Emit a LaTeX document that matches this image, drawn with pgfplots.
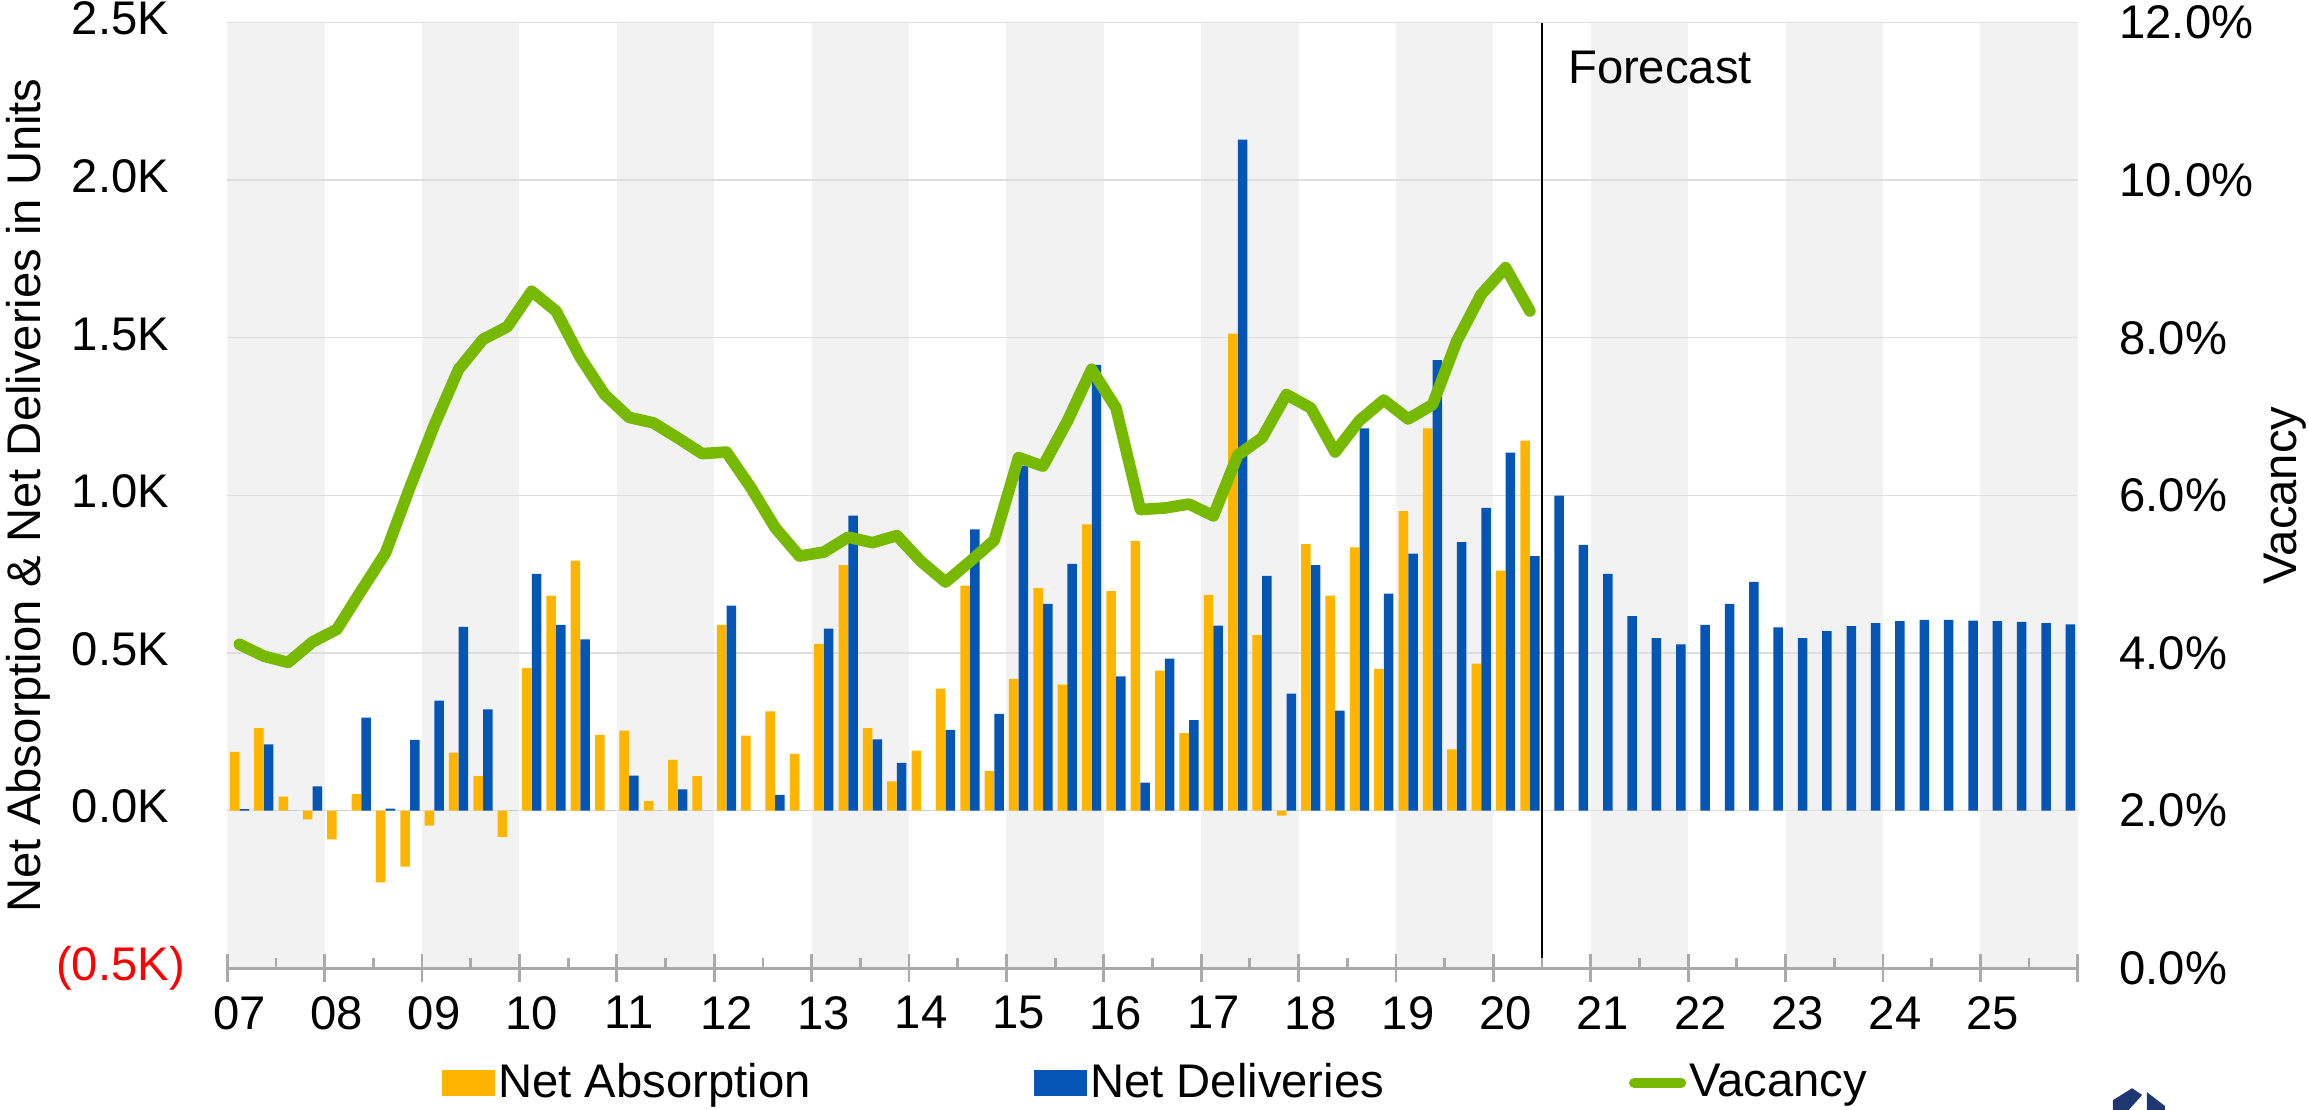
\documentclass[border=0pt]{standalone}
\usepackage{pgfplots}
\pgfplotsset{compat=1.18}
\usepackage{pgfplotstable}
\usepackage{fontspec}
\setmainfont{Liberation Sans}
\definecolor{absorb}{RGB}{255,181,0}
\definecolor{deliv}{RGB}{5,85,180}
\definecolor{vacgreen}{RGB}{118,185,0}
\definecolor{bandgray}{RGB}{242,242,242}
\definecolor{gridgray}{RGB}{222,222,222}
\definecolor{axisgray}{RGB}{170,170,170}
\definecolor{logonavy}{RGB}{30,55,115}
\newcommand{\fs}{\fontsize{11.8}{14}\selectfont}

\pgfplotstableread{
q abs del
0.5 186 5
1.5 262 210
2.5 44 0
3.5 -28 77
4.5 -91 0
5.5 52 295
6.5 -228 6
7.5 -178 224
8.5 -48 349
9.5 184 583
10.5 109 321
11.5 -83 0
12.5 452 751
13.5 682 589
14.5 793 543
15.5 240 0
16.5 254 111
17.5 30 0
18.5 161 67
19.5 109 0
20.5 589 650
21.5 238 0
22.5 315 50
23.5 180 0
24.5 529 577
25.5 779 936
26.5 262 226
27.5 93 151
28.5 190 0
29.5 387 256
30.5 714 892
31.5 125 307
32.5 418 1094
33.5 706 656
34.5 400 783
35.5 908 1414
36.5 696 426
37.5 856 89
38.5 444 482
39.5 246 287
40.5 684 587
41.5 1513 2129
42.5 557 745
43.5 -16 371
44.5 845 779
45.5 682 317
46.5 835 1213
47.5 450 688
48.5 950 815
49.5 1213 1429
50.5 194 852
51.5 466 960
52.5 761 1136
53.5 1174 807
54.5 nan 999
55.5 nan 843
56.5 nan 751
57.5 nan 617
58.5 nan 547
59.5 nan 527
60.5 nan 589
61.5 nan 656
62.5 nan 726
63.5 nan 581
64.5 nan 547
65.5 nan 569
66.5 nan 585
67.5 nan 595
68.5 nan 601
69.5 nan 605
70.5 nan 605
71.5 nan 603
72.5 nan 601
73.5 nan 599
74.5 nan 595
75.5 nan 591
}\bars

\pgfplotstableread{
q vac
0.5 4.11
1.5 3.96
2.5 3.88
3.5 4.14
4.5 4.30
5.5 4.79
6.5 5.27
7.5 6.10
8.5 6.89
9.5 7.60
10.5 7.98
11.5 8.14
12.5 8.59
13.5 8.34
14.5 7.75
15.5 7.28
16.5 6.99
17.5 6.92
18.5 6.73
19.5 6.53
20.5 6.55
21.5 6.10
22.5 5.59
23.5 5.23
24.5 5.28
25.5 5.47
26.5 5.40
27.5 5.49
28.5 5.16
29.5 4.90
30.5 5.16
31.5 5.43
32.5 6.48
33.5 6.37
34.5 6.94
35.5 7.60
36.5 7.11
37.5 5.82
38.5 5.84
39.5 5.89
40.5 5.74
41.5 6.51
42.5 6.73
43.5 7.28
44.5 7.11
45.5 6.55
46.5 6.95
47.5 7.21
48.5 6.97
49.5 7.15
50.5 7.96
51.5 8.55
52.5 8.89
53.5 8.34
}\vacancy

\begin{document}
\begin{tikzpicture}
\pgfplotsset{
  base/.style={at={(0,0)}, anchor=south west, scale only axis,
    width=462.6pt, height=236.4pt, xmin=0, xmax=76},
}
% alternating year bands
\begin{axis}[base, hide axis, ymin=0, ymax=1]
\fill[bandgray] (axis cs:0,0) rectangle (axis cs:4,1);
\fill[bandgray] (axis cs:8,0) rectangle (axis cs:12,1);
\fill[bandgray] (axis cs:16,0) rectangle (axis cs:20,1);
\fill[bandgray] (axis cs:24,0) rectangle (axis cs:28,1);
\fill[bandgray] (axis cs:32,0) rectangle (axis cs:36,1);
\fill[bandgray] (axis cs:40,0) rectangle (axis cs:44,1);
\fill[bandgray] (axis cs:48,0) rectangle (axis cs:52,1);
\fill[bandgray] (axis cs:56,0) rectangle (axis cs:60,1);
\fill[bandgray] (axis cs:64,0) rectangle (axis cs:68,1);
\fill[bandgray] (axis cs:72,0) rectangle (axis cs:76,1);
\end{axis}

% bars
\begin{axis}[base,
  ymin=-500, ymax=2500,
  axis x line*=bottom, axis y line*=left,
  x axis line style={-, draw=axisgray, line width=0.7pt},
  y axis line style={draw=none},
  xtick={0,4,...,76},
  xticklabels={07,08,09,10,11,12,13,14,15,16,17,18,19,20,21,22,23,24,25,{}},
  xtick align=center, major tick length=7pt,
  xtick style={draw=axisgray, line width=0.7pt},
  xticklabel style={font=\fs, xshift=3.04pt},
  ytick={-500,0,500,1000,1500,2000,2500},
  yticklabels={{\textcolor{red}{(0.5K)}},{0.0K\phantom{)}},{0.5K\phantom{)}},{1.0K\phantom{)}},{1.5K\phantom{)}},{2.0K\phantom{)}},{2.5K\phantom{)}}},
  ytick style={draw=none}, ytick align=inside,
  yticklabel style={font=\fs, xshift=-7.1pt},
  ymajorgrids, major grid style={draw=gridgray, line width=0.35pt},
  ylabel={Net Absorption \& Net Deliveries in Units},
  ylabel style={font=\fs, at={(axis description cs:-0.1012,0.5)}, anchor=base},
]
\addplot[ybar, bar width=0.39, bar shift=0pt, fill=absorb, draw=none]
  table[x expr=\thisrow{q}-0.2, y=abs] {\bars};
\addplot[ybar, bar width=0.39, bar shift=0pt, fill=deliv, draw=none]
  table[x expr=\thisrow{q}+0.2, y=del] {\bars};
\draw[black, line width=0.6pt] (axis cs:54,-500) -- (axis cs:54,2500);
\node[anchor=base west, inner sep=0pt, font=\fs] at (axis cs:55.04,2308) {Forecast};
\end{axis}

% vacancy line
\begin{axis}[base,
  ymin=0, ymax=12,
  axis x line*=bottom, axis y line*=right,
  x axis line style={-, draw=axisgray, line width=0.7pt},
  y axis line style={draw=none},
  xtick={2,6,...,74}, xticklabels={},
  xtick align=inside, major tick length=2.5pt,
  xtick style={draw=axisgray, line width=0.7pt},
  ytick={0,2,4,6,8,10,12},
  yticklabels={0.0\%,2.0\%,4.0\%,6.0\%,8.0\%,10.0\%,12.0\%},
  ytick style={draw=none}, ytick align=inside,
  yticklabel style={font=\fs, xshift=6.9pt},
  ylabel={Vacancy},
  ylabel style={font=\fs, at={(axis description cs:1.118,0.5)}, anchor=base},
  legend columns=3,
  legend cell align=left,
  legend style={draw=none, fill=none, font=\fs, inner sep=0pt,
    at={(axis description cs:0.1155,-0.1214)}, anchor=west,
    nodes={inner sep=0.75pt},
    /tikz/column 2/.style={column sep=55pt},
    /tikz/column 4/.style={column sep=60.5pt}},
]
\addlegendimage{legend image code/.code={\fill[absorb] (0pt,-3pt) rectangle (13pt,3pt);}}
\addlegendentry{Net Absorption}
\addlegendimage{legend image code/.code={\fill[deliv] (0pt,-3pt) rectangle (13pt,3pt);}}
\addlegendentry{Net Deliveries}
\addplot[vacgreen, line width=2.9pt, line join=round, line cap=round, mark=none,
  legend image code/.code={\draw[vacgreen, line width=2.6pt, line cap=round] (1.3pt,0pt) -- (13pt,0pt);}]
  table[x=q, y=vac] {\vacancy};
\addlegendentry{Vacancy}
\end{axis}

% partial logo at bottom right
\fill[logonavy] (471.4pt,-33.0pt) -- (476.2pt,-30.0pt) -- (478.7pt,-31.7pt) -- (475.2pt,-35.6pt) -- (471.4pt,-35.6pt) -- cycle;
\fill[logonavy] (479.9pt,-31.0pt) -- (484.4pt,-34.45pt) -- (484.4pt,-35.6pt) -- (479.9pt,-35.6pt) -- cycle;

\pgfresetboundingbox
\path[use as bounding box] (-56.825pt,-35.45pt) rectangle (520.175pt,242.05pt);
\end{tikzpicture}
\end{document}
